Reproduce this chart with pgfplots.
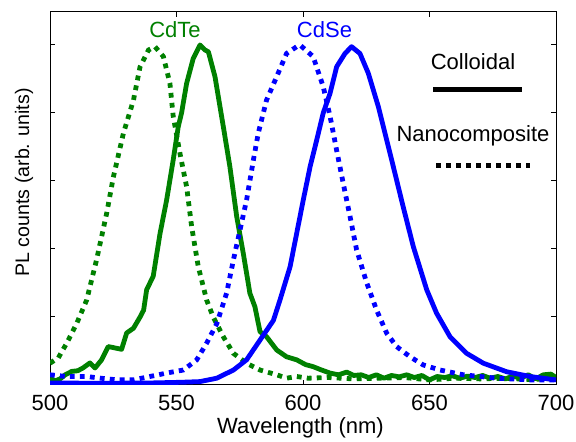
\documentclass[border=0pt]{standalone}
\usepackage{fontspec}
\setmainfont{Liberation Sans}
\usepackage{pgfplots}
\pgfplotsset{compat=1.18}
\definecolor{mgreen}{RGB}{0,128,0}
\definecolor{mblue}{RGB}{0,0,255}
\tikzset{
  coll/.style={line width=2.4pt, line join=round},
  nano/.style={line width=2.4pt, line cap=butt, dash pattern=on 2.4pt off 2.6pt}}
\begin{document}
\begin{tikzpicture}
\begin{axis}[
    scale only axis,
    width=253pt, height=186.5pt,
    xmin=500, xmax=700, ymin=0, ymax=1.097,
    xtick={500,550,...,700},
    ytick={0,0.2,0.4,0.6,0.8,1.0},
    yticklabels={},
    tick align=inside,
    major tick length=2.5pt,
    axis line style={line width=0.5pt},
    every tick/.style={black, line width=0.5pt},
    tick label style={font=\fontsize{11}{13}\selectfont},
    xticklabel style={yshift=-1.5pt},
    /pgf/number format/assume math mode=true,
    /pgf/number format/set thousands separator={},
    xlabel={Wavelength (nm)},
    ylabel={PL counts (arb. units)},
    xlabel style={font=\fontsize{11}{13}\selectfont, at={(axis description cs:0.495,0)}, anchor=center, yshift=-21.5pt},
    ylabel style={font=\fontsize{9.8}{12}\selectfont, at={(axis description cs:0,0.543)}, anchor=center, yshift=13pt},
    clip=true,
]
% CdTe colloidal
\addplot[mgreen, coll] coordinates {
(500,0.02)(502,0.012)(504,0.018)(506,0.03)(508.6,0.04)(511,0.042)(513,0.05)(515.8,0.065)(517.8,0.05)(520.4,0.074)(523,0.113)(525,0.11)(528.3,0.105)(530.3,0.153)(533,0.167)(535.6,0.20)(537,0.22)(538.2,0.28)(540.8,0.32)(543.5,0.446)(546.1,0.544)(548.7,0.662)(550.7,0.76)(552,0.80)(554,0.887)(556.6,0.96)(559.3,1.0)(561.3,0.985)(562.6,0.98)(565.2,0.907)(568.5,0.76)(571.1,0.642)(573.8,0.495)(576.4,0.387)(579,0.27)(581,0.23)(583,0.157)(585.6,0.142)(589.6,0.103)(593.5,0.083)(597.5,0.074)(601,0.06)(604,0.054)(607,0.045)(610.7,0.035)(614,0.03)(617.3,0.038)(620,0.028)(623,0.03)(626,0.022)(629,0.03)(632,0.02)(635,0.028)(638,0.024)(641,0.03)(644,0.022)(647,0.028)(650,0.015)(653,0.025)(656,0.022)(659,0.027)(662,0.02)(665,0.026)(668,0.022)(671,0.028)(674,0.02)(677,0.025)(680,0.018)(683,0.026)(686,0.02)(689,0.03)(692,0.018)(695,0.03)(698,0.032)(700,0.022)
};
% CdTe nanocomposite
\addplot[mgreen, nano] coordinates {
(500,0.064)(503.3,0.08)(506.6,0.123)(510.5,0.18)(514.5,0.25)(518.4,0.368)(522.4,0.505)(525,0.61)(529,0.74)(533,0.838)(535.6,0.936)(538.9,0.985)(541.5,0.995)(544.8,0.966)(547.4,0.887)(548.7,0.79)(551.4,0.68)(554,0.583)(556,0.465)(558.6,0.348)(561.9,0.25)(564.5,0.20)(568.5,0.142)(572.5,0.093)(577.7,0.064)(583,0.044)(589.6,0.03)(593.5,0.02)(597.5,0.025)(602,0.02)(610,0.022)(620,0.018)(630,0.02)(640,0.022)(650,0.015)(660,0.02)(670,0.018)(680,0.02)(690,0.016)(700,0.02)
};
% CdSe nanocomposite
\addplot[mblue, nano] coordinates {
(500,0.03)(506.6,0.025)(514.5,0.025)(520,0.02)(526.6,0.015)(533,0.015)(539.5,0.025)(546,0.035)(552.7,0.044)(558,0.074)(561.9,0.123)(565.9,0.18)(569.8,0.27)(572.5,0.368)(575.1,0.456)(577.7,0.544)(580.4,0.662)(582.3,0.74)(585.6,0.838)(589.6,0.907)(593.5,0.975)(597.5,0.995)(598.8,1.0)(604,0.966)(608,0.877)(610.7,0.79)(613.3,0.69)(615.9,0.593)(618.6,0.495)(621.2,0.397)(625.2,0.3)(629.1,0.22)(633.1,0.152)(637,0.113)(642.3,0.083)(647.5,0.059)(654.2,0.044)(663.4,0.03)(676.5,0.02)(689.7,0.015)(700,0.015)
};
% CdSe colloidal
\addplot[mblue, coll] coordinates {
(500,0.006)(520,0.005)(540,0.006)(552,0.008)(559.3,0.01)(565.9,0.02)(572.5,0.044)(577.7,0.074)(583,0.132)(588.3,0.19)(590.9,0.25)(594.9,0.348)(597.5,0.446)(600.1,0.544)(602.8,0.642)(605.4,0.72)(608,0.80)(610.7,0.858)(613.3,0.936)(616.6,0.975)(619.2,0.995)(622.5,0.975)(625.8,0.917)(629.8,0.818)(633.1,0.72)(635.7,0.642)(639.6,0.524)(643.6,0.407)(648.9,0.28)(652.8,0.211)(658.1,0.142)(664.7,0.093)(671.3,0.064)(680.5,0.039)(689.7,0.025)(700,0.015)
};
\node[mgreen, font=\fontsize{11}{13}\selectfont] at (axis cs:549.4,1.044) {CdTe};
\node[mblue, font=\fontsize{11}{13}\selectfont] at (axis cs:608.5,1.044) {CdSe};
\node[font=\fontsize{11}{13}\selectfont] at (axis cs:667.2,0.95) {Colloidal};
\draw[black, line width=2.5pt] (axis cs:651.4,0.868) -- (axis cs:686.6,0.868);
\node[font=\fontsize{11}{13}\selectfont] at (axis cs:667.2,0.732) {Nanocomposite};
\draw[black, nano, line width=2.5pt] (axis cs:652.6,0.647) -- (axis cs:689.7,0.647);
\end{axis}
\pgfresetboundingbox
\useasboundingbox ([xshift=-25pt,yshift=-28.5pt]current axis.south west) rectangle ([xshift=10pt,yshift=6pt]current axis.north east);
\end{tikzpicture}
\end{document}
